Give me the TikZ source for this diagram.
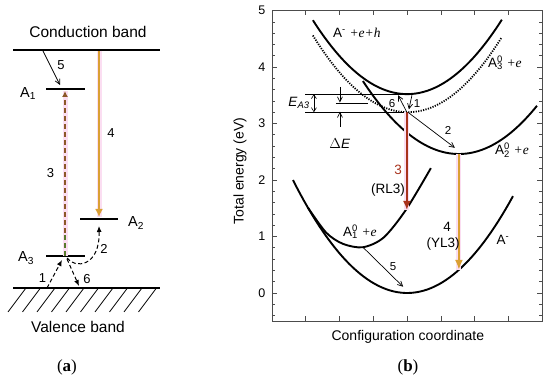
\documentclass[tikz,border=0pt]{standalone}
\usepackage{fontspec}
\setmainfont{Liberation Serif}
\setsansfont{Liberation Sans}
\usetikzlibrary{arrows.meta,calc}
\definecolor{rlred}{RGB}{168,50,28}
\definecolor{ylgold}{RGB}{218,160,52}
\definecolor{glow}{RGB}{251,222,242}
\definecolor{dbrown}{RGB}{140,88,40}
\definecolor{dgreen}{RGB}{88,122,44}

\begin{document}
\begin{tikzpicture}[x=1pt,y=-1pt,
  txt/.style={font=\sffamily\fontsize{15.5}{17}\selectfont, inner sep=0pt},
  lvn/.style={font=\sffamily\fontsize{14.5}{16}\selectfont, inner sep=0pt, anchor=base west},
  num/.style={font=\sffamily\fontsize{13}{14}\selectfont, inner sep=0pt},
  pcap/.style={font=\rmfamily\fontsize{17}{19}\selectfont, inner sep=0pt},
  lvl/.style={line width=1.8pt},
  band/.style={line width=1.1pt},
  dar/.style={dash pattern=on 4pt off 2.5pt, line width=1pt, -{Latex[length=6pt,width=5pt]}},
  bar/.style={line width=0.7pt, -{Straight Barb[length=5pt,width=5pt]}},
  glw/.style={line width=5pt, glow},
  crv/.style={line width=1.9pt},
  axs/.style={line width=0.8pt, black!70},
  tk/.style={font=\sffamily\fontsize{12.5}{14}\selectfont, inner sep=0pt, anchor=east},
  bl/.style={font=\sffamily\fontsize{13.5}{15}\selectfont, inner sep=0pt},
  sn/.style={font=\sffamily\fontsize{11.5}{13}\selectfont, inner sep=0pt},
  axl/.style={font=\sffamily\fontsize{14}{16}\selectfont, inner sep=0pt},
  thl/.style={line width=0.6pt},
]
\useasboundingbox (0,0) rectangle (550,382);

% (a) level scheme
\coordinate (cbl) at (13,50); \coordinate (cbr) at (160,50);
\coordinate (vbl) at (13,288); \coordinate (vbr) at (160,288);
\draw[band] (cbl) -- (cbr);
\draw[band] (vbl) -- (vbr);
\foreach \i in {0,...,9} \draw[line width=0.8pt] (8+14.5*\i,312) -- ++(18,-24);
\node[txt] (cb) at (88,32) {Conduction band};
\node[txt] (vb) at (78,327) {Valence band};

\coordinate (a1l) at (46,89);  \coordinate (a1r) at (85,89);
\coordinate (a2l) at (80,219); \coordinate (a2r) at (118,219);
\coordinate (a3l) at (46,256); \coordinate (a3r) at (85,256);
\draw[lvl] (a1l) -- (a1r); \draw[lvl] (a2l) -- (a2r); \draw[lvl] (a3l) -- (a3r);
\node[lvn] (a1n) at (20,97.5) {A\textsubscript{1}};
\node[lvn] (a2n) at (128,227) {A\textsubscript{2}};
\node[lvn] (a3n) at (18,262) {A\textsubscript{3}};

\coordinate (p4s) at (99,51);  \coordinate (p4e) at (99,217);
\draw[glw] (p4s) -- (p4e);
\draw[ylgold, line width=2pt, -{Latex[length=8pt,width=8pt]}] (p4s) -- (p4e);
\coordinate (p3s) at (65,256); \coordinate (p3m) at (65,233); \coordinate (p3e) at (65,91);
\draw[glw] (p3s) -- (p3e);
\draw[dgreen, line width=2pt, dash pattern=on 5pt off 3pt] (p3s) -- (p3m);
\draw[dbrown, line width=2pt, dash pattern=on 5pt off 3pt, -{Latex[length=6pt,width=6pt]}] (p3m) -- (p3e);
\coordinate (p5s) at (43,51);  \coordinate (p5e) at (60,85);
\draw[bar] (p5s) -- (p5e);
\coordinate (p2s) at (67,258); \coordinate (p2e) at (99,226);
\draw[dar] (p2s) .. controls (75,269) and (100,267) .. (p2e);
\coordinate (p1s) at (47,288); \coordinate (p1e) at (62,260);
\draw[dar] (p1s) -- (p1e);
\coordinate (p6s) at (67,259); \coordinate (p6e) at (79,286);
\draw[dar] (p6s) -- (p6e);
\node[num] (n5a) at (61,65) {5};
\node[num] (n4a) at (111,133) {4};
\node[num] (n3a) at (50.5,173) {3};
\node[num] (n2a) at (104,248.5) {2};
\node[num] (n1a) at (42.5,278) {1};
\node[num] (n6a) at (87,279) {6};
\node[pcap] (capa) at (67,367) {(\textbf{a})};

% (b) configuration coordinate diagram
\begin{scope}[shift={(272,293)}, x=33.8pt, y=56.5pt]
\draw[axs] (0,-0.5) rectangle (8,5);
\foreach \k in {0,...,5} {
  \draw[axs] (0,\k) -- ++(5pt,0);
  \draw[axs] (8,\k) -- ++(-5pt,0);
  \node[tk] (t\k) at (-0.19,\k) {\k};
}
\foreach \k in {-0.4,-0.2,...,4.9} {
  \draw[axs, line width=0.6pt] (0,\k) -- ++(3pt,0);
  \draw[axs, line width=0.6pt] (8,\k) -- ++(-3pt,0);
}
\foreach \k in {1,...,7} {
  \draw[axs] (\k,-0.5) -- ++(0,5pt);
  \draw[axs] (\k,5) -- ++(0,-5pt);
}
\node[axl, rotate=90] (ylab) at (-0.95,2.16) {Total energy (eV)};
\node[axl] (xlab) at (4.02,-0.78) {Configuration coordinate};

\draw[crv] plot[domain=0.62:7.13, samples=60] (\x, {0.175*(\x-4)^2});
\draw[crv] plot[smooth] coordinates {(1.065,1.51) (1.6,1.07) (2.1,0.87) (2.69,0.81) (3.3,0.98) (3.96,1.47) (4.70,2.21)};
\draw[crv] plot[domain=2.69:7.84, samples=60] (\x, {2.46+0.16*(\x-5.53)^2});
\draw[crv] plot[domain=1.21:6.8, samples=60] (\x, {3.52+0.168*(\x-4)^2});
\draw[line width=1.8pt, dash pattern=on 1.2pt off 1.3pt] plot[domain=1.21:6.78, samples=60] (\x, {3.2+0.172*(\x-4.02)^2});

\coordinate (htl) at (0.98,3.52); \coordinate (htr) at (3.88,3.52);
\coordinate (hbl) at (0.98,3.2);  \coordinate (hbr) at (4.02,3.2);
\coordinate (hml) at (1.89,3.36); \coordinate (hmr) at (2.84,3.36);
\draw[thl] (htl) -- (htr); \draw[thl] (hbl) -- (hbr); \draw[thl] (hml) -- (hmr);
\coordinate (ea) at (1.24,3.36);
\draw[bar, line width=0.6pt, -{Straight Barb[length=4pt,width=5pt]}] (ea) -- (1.24,3.52);
\draw[bar, line width=0.6pt, -{Straight Barb[length=4pt,width=5pt]}] (ea) -- (1.24,3.2);
\node[bl, anchor=east] (ean) at (1.12,3.36) {\textit{E}\textsubscript{\textit{A3}}};
\coordinate (dts) at (2.01,3.65); \coordinate (dte) at (2.01,3.37);
\coordinate (dbs) at (2.01,2.94); \coordinate (dbe) at (2.01,3.21);
\draw[bar] (dts) -- (dte); \draw[bar] (dbs) -- (dbe);
\node[bl] (den) at (2.01,2.64) {$\Delta$\textit{E}};

\coordinate (r3s) at (3.99,3.2);  \coordinate (r3e) at (3.99,1.47);
\draw[glw] (r3s) -- (r3e);
\draw[rlred, line width=2.4pt, -{Latex[length=9pt,width=8pt]}] (r3s) -- (r3e);
\coordinate (y4s) at (5.53,2.46); \coordinate (y4e) at (5.53,0.41);
\draw[glw] (y4s) -- (y4e);
\draw[ylgold, line width=2.4pt, -{Latex[length=10pt,width=8pt]}] (y4s) -- (y4e);

\coordinate (b6s) at (3.99,3.2);  \coordinate (b6e) at (3.73,3.5);
\coordinate (b1s) at (4.14,3.5);  \coordinate (b1e) at (4.05,3.25);
\coordinate (b2s) at (4.02,3.2);  \coordinate (b2e) at (5.41,2.57);
\coordinate (b5s) at (2.69,0.81); \coordinate (b5e) at (3.88,0.11);
\draw[bar] (b6s) -- (b6e); \draw[bar] (b1s) -- (b1e);
\draw[bar] (b2s) -- (b2e); \draw[bar] (b5s) -- (b5e);
\node[sn] (n6b) at (3.55,3.36) {6};
\node[sn] (n1b) at (4.29,3.36) {1};
\node[sn] (n2b) at (5.21,2.87) {2};
\node[sn] (n5b) at (3.58,0.46) {5};
\node[bl, text=rlred] (n3b) at (3.73,2.18) {3};
\node[bl] (rl3) at (3.43,1.83) {(RL3)};
\node[bl] (n4b) at (5.18,1.17) {4};
\node[bl] (yl3) at (5.06,0.87) {(YL3)};

\node[bl] (lt) at (2.51,4.60) {A\textsuperscript{-} {\rmfamily\itshape +e+h}};
\node[bl] (l3) at (6.89,4.07) {A\rlap{\textsuperscript{0}}\textsubscript{3} {\rmfamily\itshape +e}};
\node[bl] (l2) at (7.10,2.53) {A\rlap{\textsuperscript{0}}\textsubscript{2} {\rmfamily\itshape +e}};
\node[bl] (l1) at (2.60,1.08) {A\rlap{\textsuperscript{0}}\textsubscript{1} {\rmfamily\itshape +e}};
\node[bl] (lg) at (6.83,0.94) {A\textsuperscript{-}};
\end{scope}
\node[pcap] (capb) at (408,367) {(\textbf{b})};
\end{tikzpicture}
\end{document}
